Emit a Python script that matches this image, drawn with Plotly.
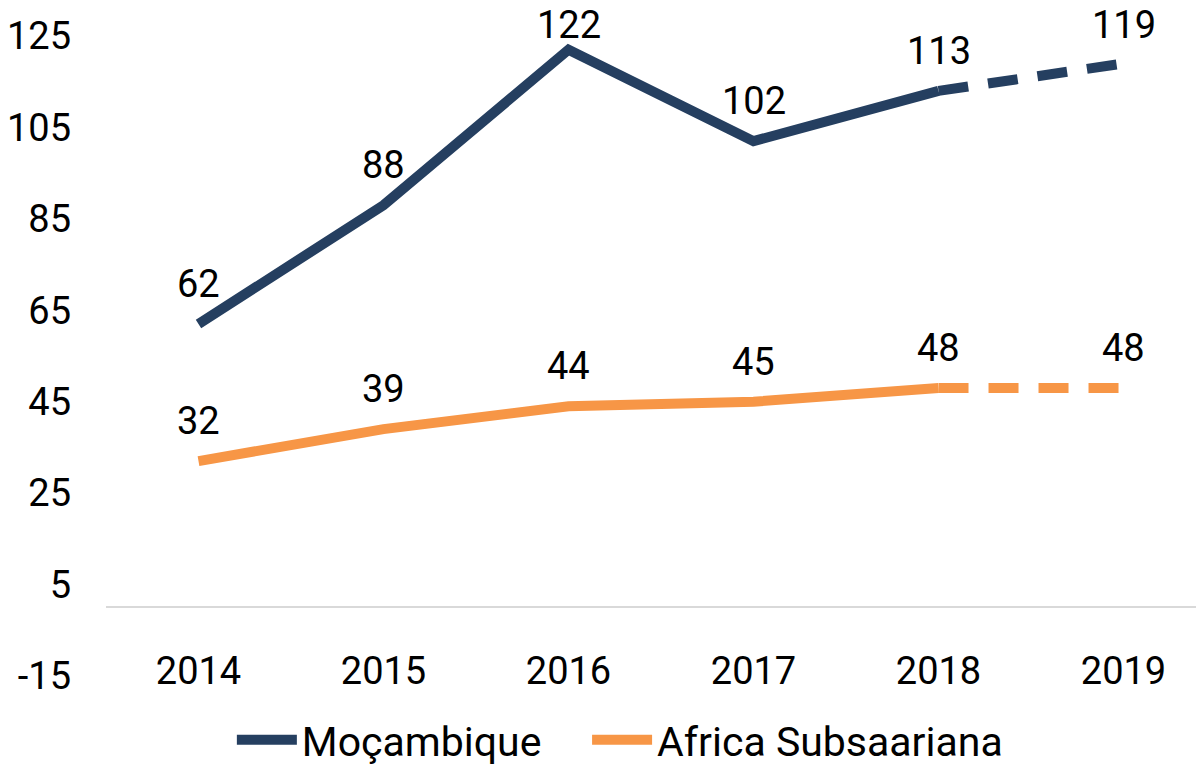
import plotly.graph_objects as go

years = ["2014", "2015", "2016", "2017", "2018", "2019"]
mocambique = [62, 88, 122, 102, 113, 119]
africa = [32, 39, 44, 45, 48, 48]
y_ticks = [-15, 5, 25, 45, 65, 85, 105, 125]
y_tick_labels = ["-15", "5", "25", "45", "65", "85", "105", "125"]
series_names = ["Moçambique", "Africa Subsaariana"]

NAVY = "#253F60"
ORANGE = "#F79646"
FONT = "Roboto, Arial, sans-serif"
FS = 38
PX_PER_UNIT = 640 / 140.0  # plot height / y span

fig = go.Figure()

def add_series(name, vals, color, legend_pad):
    # solid part (actual), dashed part (projection)
    fig.add_trace(go.Scatter(x=years[:5], y=vals[:5], mode="lines",
                             name=name + legend_pad,
                             line=dict(color=color, width=10), showlegend=True,
                             legendgroup=name))
    fig.add_trace(go.Scatter(x=years[4:], y=vals[4:], mode="lines", name=name,
                             line=dict(color=color, width=10, dash="30px,20px"),
                             showlegend=False, legendgroup=name))
    for i, v in enumerate(vals):
        shift = min(40, (127.5 - v) * PX_PER_UNIT)
        fig.add_annotation(x=i, y=v, yshift=shift, text=str(v), showarrow=False,
                           font=dict(family=FONT, size=FS, color="black"),
                           xref="x", yref="y")

add_series(series_names[0], mocambique, NAVY, "\u00a0" * 4)
add_series(series_names[1], africa, ORANGE, "")

fig.update_layout(
    width=1204, height=766,
    margin=dict(l=98, r=8, t=28, b=98, autoexpand=False),
    paper_bgcolor="white", plot_bgcolor="white",
    font=dict(family=FONT, size=FS, color="black"),
    showlegend=True,
    legend=dict(orientation="h", x=0.468, xanchor="center", y=-0.10, yanchor="middle",
                font=dict(family=FONT, size=41, color="black"), itemwidth=60),
    xaxis=dict(type="category", range=[-0.5, 5.435], showgrid=False,
               anchor="free", position=15 / 140, showline=True, linecolor="#D9D9D9",
               linewidth=2, ticks="", ticklabelstandoff=30, zeroline=False),
    yaxis=dict(range=[-15, 125], tickvals=y_ticks, ticktext=y_tick_labels,
               showgrid=False, zeroline=False,
               showline=False, ticks="", ticklabelstandoff=34),
)

fig.write_html("out.html")
